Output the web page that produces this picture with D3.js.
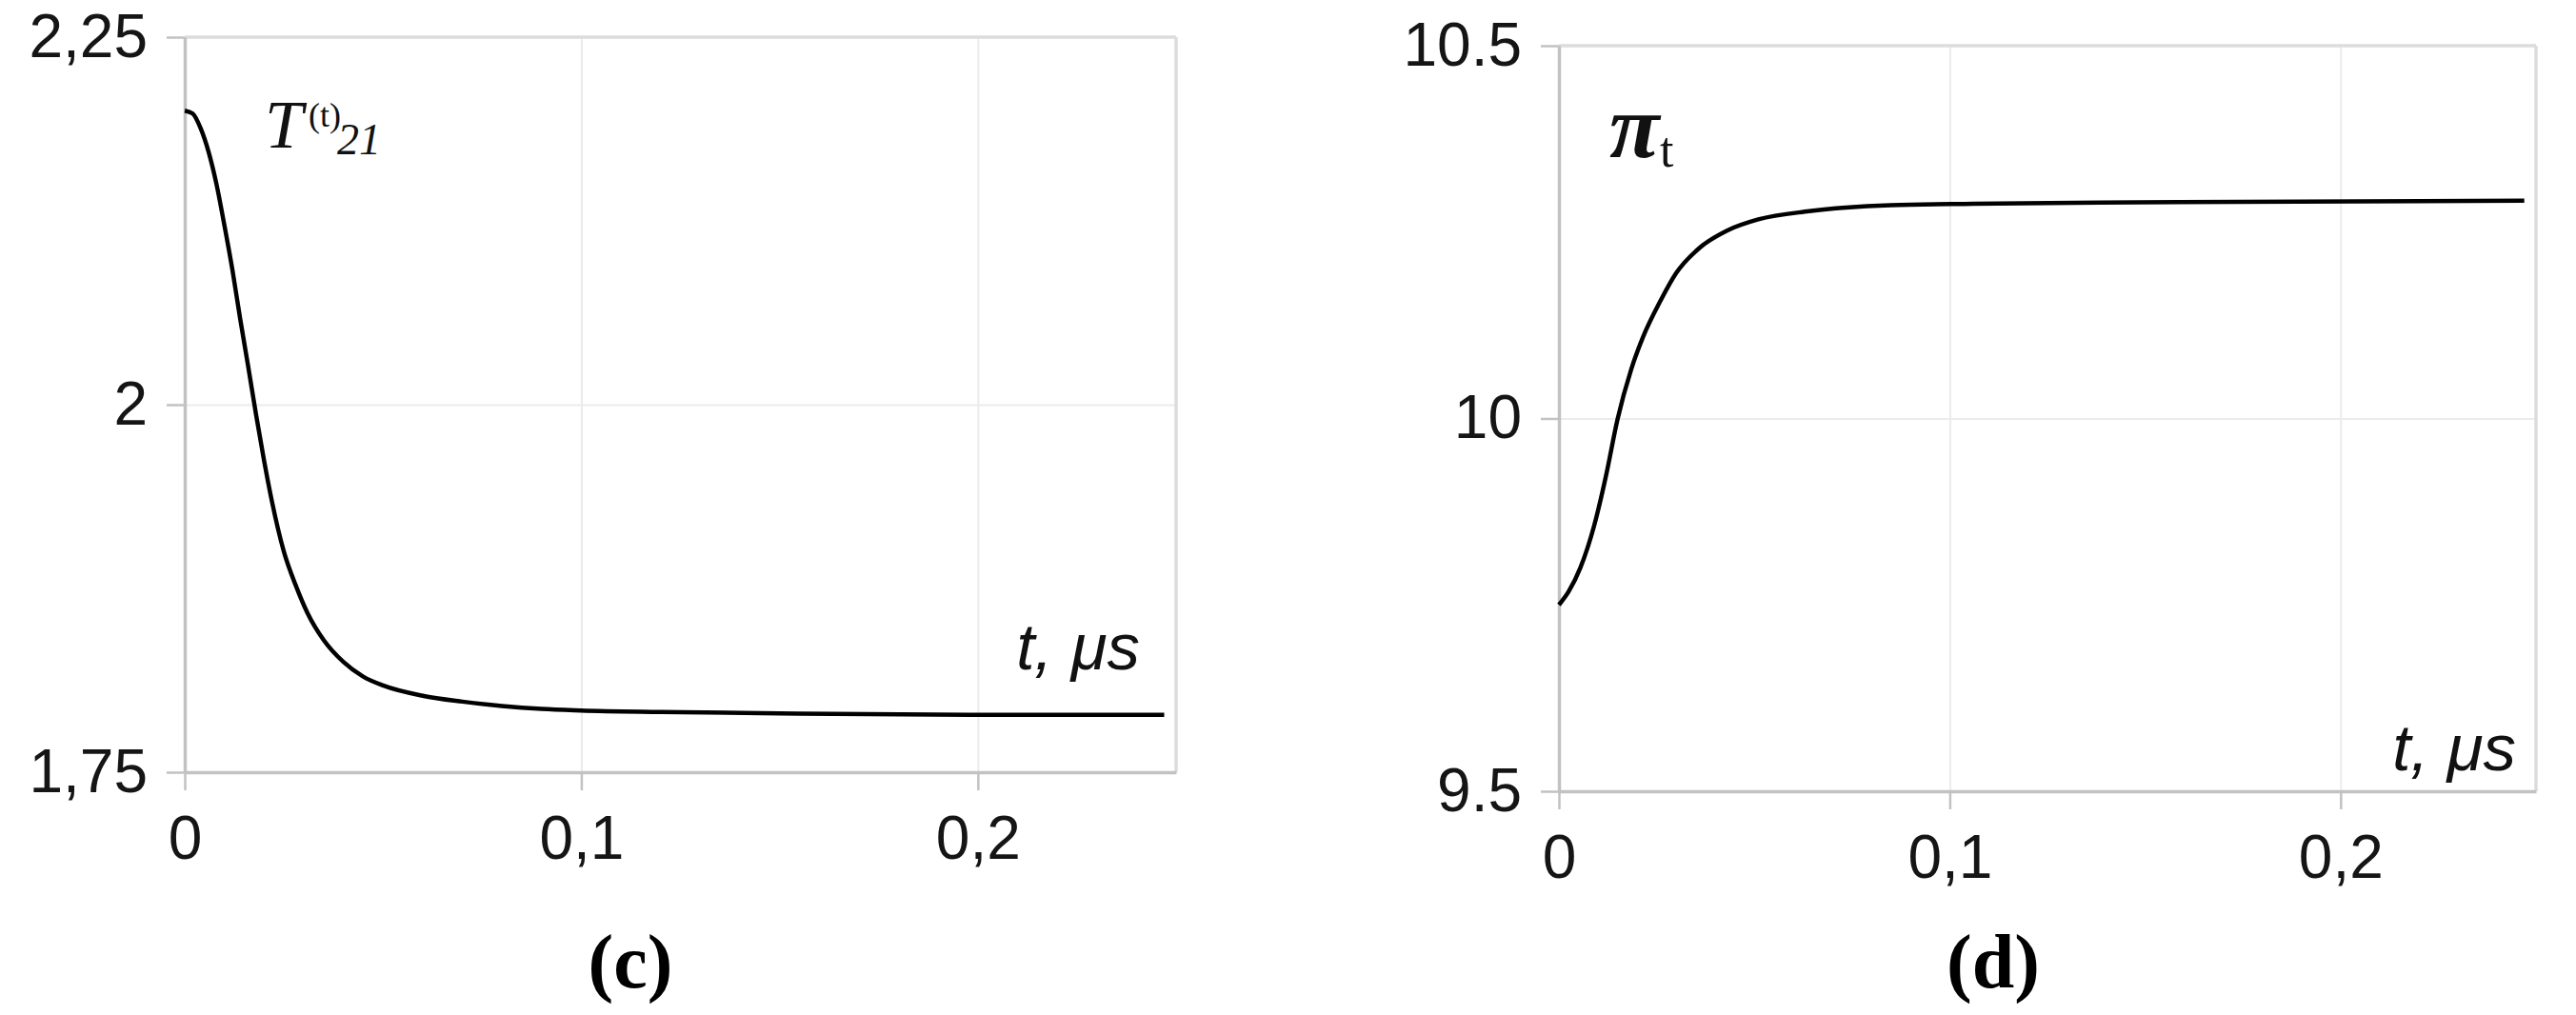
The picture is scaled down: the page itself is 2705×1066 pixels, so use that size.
<!DOCTYPE html>
<html>
<head>
<meta charset="utf-8">
<script src="https://cdn.jsdelivr.net/npm/d3@7"></script>
<style>
body { margin: 0; background: #fff; }
svg { display: block; }
.axis text { font-family: "Liberation Sans", Arial, sans-serif; font-size: 64px; fill: #151515; }
.axis .tick line { stroke: #c2c2c2; stroke-width: 2.5px; }
.axis .domain { stroke: #c2c2c2; stroke-width: 3.5px; }
.grid .tick line { stroke: #ebebeb; stroke-width: 2px; }
.grid .domain { display: none; }
.border { stroke: #dcdcdc; stroke-width: 3.5px; }
.curve { fill: none; stroke: #000; stroke-width: 4.5px; stroke-linejoin: round; stroke-linecap: butt; }
.unit { font-family: "Liberation Sans", Arial, sans-serif; font-style: italic; font-size: 69px; fill: #111; }
.name { font-family: "Liberation Serif", "Times New Roman", serif; fill: #111; }
.caption { font-family: "Liberation Serif", "Times New Roman", serif; font-weight: bold; font-size: 80px; fill: #000; }
</style>
</head>
<body>
<script>
'use strict';

// (c) T(t)21 against time, microseconds
var timeC = [0, 0.002, 0.004, 0.006, 0.008, 0.010, 0.012, 0.014, 0.016, 0.018, 0.020, 0.022,
	0.025, 0.028, 0.031, 0.035, 0.040, 0.045, 0.050, 0.060, 0.070, 0.080, 0.090, 0.100,
	0.120, 0.150, 0.200, 0.247];
var tempC = [2.200, 2.198, 2.188, 2.172, 2.150, 2.122, 2.092, 2.058, 2.026, 1.993, 1.962, 1.934,
	1.900, 1.877, 1.858, 1.840, 1.825, 1.815, 1.809, 1.802, 1.798, 1.795, 1.793, 1.792,
	1.791, 1.790, 1.789, 1.789];

// (d) pi_t against time, microseconds
var timeD = [0, 0.0025, 0.0055, 0.009, 0.012, 0.015, 0.0185, 0.0215, 0.026, 0.030, 0.036,
	0.043, 0.051, 0.064, 0.085, 0.106, 0.148, 0.247];
var piD = [9.75, 9.768, 9.80, 9.856, 9.922, 9.999, 10.066, 10.109, 10.158, 10.195, 10.229,
	10.252, 10.267, 10.278, 10.286, 10.288, 10.290, 10.292];

// Tick values and labels
var xDomain = [0, 0.25];
var xTicks = [0, 0.1, 0.2];
var xTickLabels = ['0', '0,1', '0,2'];
var yDomainC = [1.75, 2.25];
var yTicksC = [1.75, 2, 2.25];
var yTickLabelsC = ['1,75', '2', '2,25'];
var yDomainD = [9.5, 10.5];
var yTicksD = [9.5, 10, 10.5];
var yTickLabelsD = ['9.5', '10', '10.5'];

var svg = d3.select('body').append('svg')
	.attr('width', 2705)
	.attr('height', 1066)
	;

function panel(cfg) {
	var width = cfg.right - cfg.left;
	var height = cfg.bottom - cfg.top;

	var x = d3.scaleLinear()
		.domain(xDomain)
		.range([0, width])
		;
	var y = d3.scaleLinear()
		.domain(cfg.yDomain)
		.range([height, 0])
		;

	var view = svg.append('g')
		.attr('transform', 'translate(' + cfg.left + ',' + cfg.top + ')');

	// Inner grid
	view.append('g')
		.attr('class', 'grid')
		.attr('transform', 'translate(0,' + height + ')')
		.call(d3.axisBottom(x).tickValues(xTicks.slice(1)).tickSize(-height).tickFormat(''))
		;
	view.append('g')
		.attr('class', 'grid')
		.call(d3.axisLeft(y).tickValues(cfg.yTicks.slice(1, -1)).tickSize(-width).tickFormat(''))
		;

	// Top and right edges of the plot area
	view.append('line')
		.attr('class', 'border')
		.attr('x1', 0).attr('x2', width)
		.attr('y1', y(cfg.yDomain[1])).attr('y2', y(cfg.yDomain[1]));
	view.append('line')
		.attr('class', 'border')
		.attr('x1', x(xDomain[1])).attr('x2', x(xDomain[1]))
		.attr('y1', 0).attr('y2', height);

	// Axes
	view.append('g')
		.attr('class', 'x axis')
		.attr('transform', 'translate(0,' + height + ')')
		.call(d3.axisBottom(x)
			.tickValues(xTicks)
			.tickSize(19)
			.tickSizeOuter(0)
			.tickPadding(27)
			.tickFormat(function(d, i) { return xTickLabels[i]; }))
		;
	view.append('g')
		.attr('class', 'y axis')
		.call(d3.axisLeft(y)
			.tickValues(cfg.yTicks)
			.tickSize(19)
			.tickSizeOuter(0)
			.tickPadding(20)
			.tickFormat(function(d, i) { return cfg.yLabels[i]; }))
		;

	// The curve
	var line = d3.line()
		.x(function(d) { return x(d[0]); })
		.y(function(d) { return y(d[1]); })
		.curve(d3.curveMonotoneX)
		;
	view.append('path')
		.datum(d3.zip(cfg.xs, cfg.ys))
		.attr('class', 'curve')
		.attr('d', line);

	// Axis unit label
	view.append('text')
		.attr('class', 'unit')
		.attr('text-anchor', 'end')
		.attr('x', cfg.unitX - cfg.left)
		.attr('y', cfg.unitY - cfg.top)
		.text('t, μs');

	// Sub-figure caption
	svg.append('text')
		.attr('class', 'caption')
		.attr('text-anchor', 'middle')
		.attr('x', cfg.captionX)
		.attr('y', 1037)
		.text(cfg.caption);
}

panel({
	left: 194, right: 1235, top: 39, bottom: 811,
	yDomain: yDomainC, yTicks: yTicksC, yLabels: yTickLabelsC,
	xs: timeC, ys: tempC,
	unitX: 1197, unitY: 703,
	captionX: 662, caption: '(c)',
});

panel({
	left: 1637, right: 2663, top: 48, bottom: 831,
	yDomain: yDomainD, yTicks: yTicksD, yLabels: yTickLabelsD,
	xs: timeD, ys: piD,
	unitX: 2642, unitY: 809,
	captionX: 2093, caption: '(d)',
});

// Series names
var nameC = svg.append('text').attr('class', 'name');
nameC.append('tspan')
	.attr('x', 278).attr('y', 155)
	.style('font-style', 'italic').style('font-size', '72px')
	.text('T');
nameC.append('tspan')
	.attr('x', 324).attr('y', 133)
	.style('font-size', '36px')
	.text('(t)');
nameC.append('tspan')
	.attr('x', 354).attr('y', 162)
	.style('font-style', 'italic').style('font-size', '46px')
	.text('21');

var nameD = svg.append('text').attr('class', 'name');
nameD.append('tspan')
	.attr('x', 1690).attr('y', 165)
	.style('font-style', 'italic').style('font-weight', 'bold').style('font-size', '96px')
	.text('π');
nameD.append('tspan')
	.attr('x', 1743).attr('y', 175)
	.style('font-size', '52px')
	.text('t');
</script>
</body>
</html>
